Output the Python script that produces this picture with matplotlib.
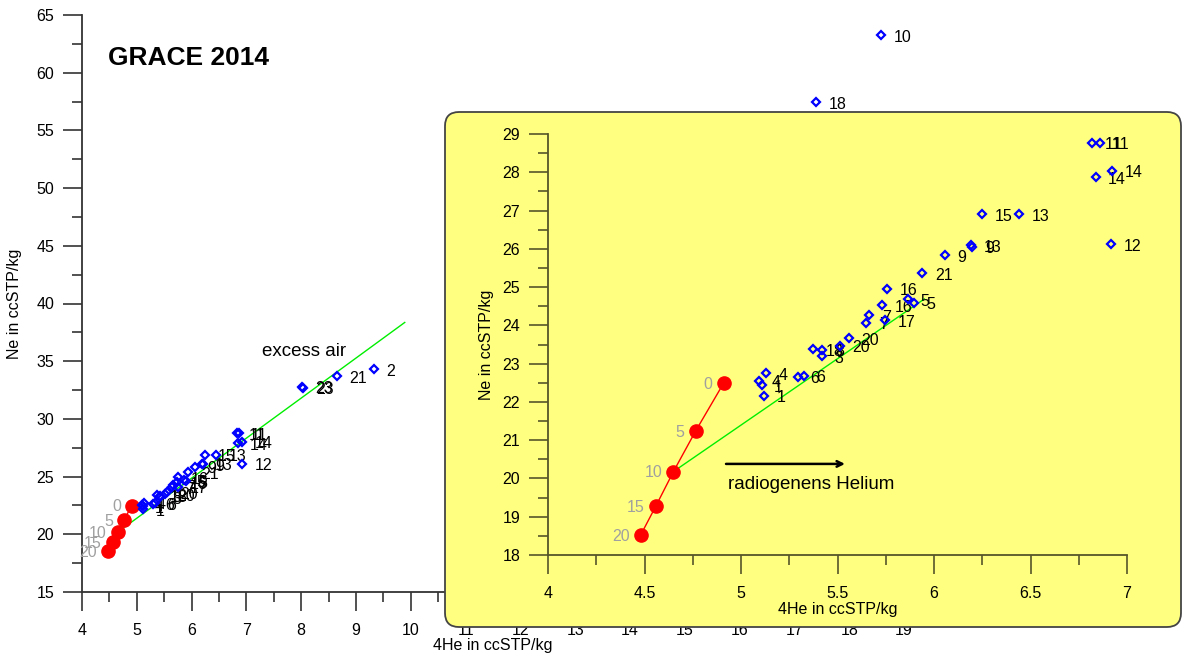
import matplotlib
matplotlib.use("Agg")
import matplotlib.pyplot as plt
from matplotlib.patches import FancyBboxPatch
from matplotlib.ticker import MultipleLocator, FormatStrFormatter

plt.rcParams["font.family"] = ["Liberation Sans", "DejaVu Sans"]

# sample measurements (4He, Ne) with sample labels
he4 = [5.129, 5.093, 5.107, 5.119, 5.293, 5.327, 5.374, 5.421, 5.421, 5.512,
       5.557, 5.650, 5.664, 5.745, 5.733, 5.757, 5.863, 5.895, 5.940, 6.058,
       6.192, 6.199, 6.249, 6.443, 6.916, 6.821, 6.859, 6.921, 6.838,
       8.02, 8.04, 8.65, 9.32, 18.58, 17.40]
ne = [22.75, 22.55, 22.44, 22.16, 22.66, 22.68, 23.38, 23.36, 23.20, 23.47,
      23.67, 24.07, 24.27, 24.14, 24.52, 24.96, 24.69, 24.59, 25.36, 25.84,
      26.10, 26.06, 26.91, 26.91, 26.12, 28.77, 28.77, 28.04, 27.87,
      32.80, 32.70, 33.72, 34.32, 63.27, 57.46]
labels = ["4", "4", "1", "1", "6", "6", "18", "8", "3", "20",
          "20", "7", "7", "17", "16", "16", "5", "5", "21", "9",
          "13", "9", "15", "13", "12", "11", "11", "14", "14",
          "23", "23", "21", "2", "10", "18"]

# air-equilibrated water line (temperature in degC)
eq_he = [4.91, 4.765, 4.65, 4.56, 4.48]
eq_ne = [22.49, 21.24, 20.18, 19.29, 18.52]
eq_temp = ["0", "5", "10", "15", "20"]

# excess air line
ea_he_main = [4.65, 9.89]
ea_ne_main = [20.18, 38.36]
ea_he_inset = [4.65, 5.95]
ea_ne_inset = [20.18, 24.69]

BLUE = "#0000ff"
RED = "#ff0000"
GREEN = "#00ee00"
GRAY = "#a0a0a0"
YELLOW = "#ffff80"
FS = 11.5


def draw_data(ax, ea_x, ea_y):
    ax.plot(ea_x, ea_y, color=GREEN, lw=1.0, zorder=2)
    ax.plot(eq_he, eq_ne, color=RED, lw=1.0, zorder=2)
    ax.plot(eq_he, eq_ne, "o", color=RED, ms=9.5, mec=RED, zorder=3)
    for x, y, t in zip(eq_he, eq_ne, eq_temp):
        ax.annotate(t, (x, y), xytext=(-8, -1), textcoords="offset points",
                    ha="right", va="center", fontsize=FS, color=GRAY,
                    annotation_clip=True)
    ax.plot(he4, ne, "D", ms=4.3, mfc="none", mec=BLUE, mew=1.6, zorder=4)
    for x, y, t in zip(he4, ne, labels):
        ax.annotate(t, (x, y), xytext=(9, -1.5), textcoords="offset points",
                    ha="left", va="center", fontsize=FS, color="black",
                    annotation_clip=True)


def style_axes(ax, color, xmaj, xmin, ymaj, ymin):
    for s in ("top", "right"):
        ax.spines[s].set_visible(False)
    for s in ("left", "bottom"):
        ax.spines[s].set_color(color)
        ax.spines[s].set_linewidth(1.3)
    ax.xaxis.set_major_locator(MultipleLocator(xmaj))
    ax.xaxis.set_minor_locator(MultipleLocator(xmin))
    ax.yaxis.set_major_locator(MultipleLocator(ymaj))
    ax.yaxis.set_minor_locator(MultipleLocator(ymin))
    ax.xaxis.set_major_formatter(FormatStrFormatter("%g"))
    ax.yaxis.set_major_formatter(FormatStrFormatter("%g"))
    ax.tick_params(which="major", length=14, width=1.2, color=color,
                   labelsize=FS, pad=6)
    ax.tick_params(axis="x", which="major", pad=8)
    ax.tick_params(which="minor", length=7, width=1.2, color=color)


W, H = 1183, 655
fig = plt.figure(figsize=(W / 100, H / 100), dpi=100)

# main axes
ax = fig.add_axes([82 / W, 1 - 592 / H, (904 - 82) / W, (592 - 15) / H])
ax.set_zorder(0)
draw_data(ax, ea_he_main, ea_ne_main)
ax.set_xlim(4, 19)
ax.set_ylim(15, 65)
style_axes(ax, "#333333", 1, 0.5, 5, 2.5)
ax.set_xlabel("4He in ccSTP/kg", fontsize=FS, labelpad=0)
ax.set_ylabel("Ne in ccSTP/kg", fontsize=FS, labelpad=10)
ax.text(4.47, 61.3, "GRACE 2014", fontsize=19, fontweight="bold",
        ha="left", va="center")
ax.text(8.05, 35.82, "excess air", fontsize=13.5, ha="center", va="center")

# yellow inset panel
box = FancyBboxPatch((4.45, 0.28), 7.36, 5.15,
                     boxstyle="round,pad=0,rounding_size=0.14",
                     transform=fig.dpi_scale_trans, facecolor=YELLOW,
                     edgecolor="#444444", linewidth=1.3, zorder=0.5)
fig.patches.append(box)

ins = fig.add_axes([548 / W, 1 - 555 / H, (1127 - 548) / W, (555 - 134) / H])
ins.set_zorder(1)
ins.patch.set_alpha(0)
draw_data(ins, ea_he_inset, ea_ne_inset)
ins.set_xlim(4, 7)
ins.set_ylim(18, 29)
style_axes(ins, "#55552a", 0.5, 0.25, 1, 0.5)
ins.set_xlabel("4He in ccSTP/kg", fontsize=FS, labelpad=1)
ins.set_ylabel("Ne in ccSTP/kg", fontsize=FS, labelpad=6)
ins.annotate("", xy=(5.553, 20.38), xytext=(4.908, 20.38),
             arrowprops=dict(arrowstyle="->", color="black", lw=1.8))
ins.text(4.932, 19.83, "radiogenens Helium", fontsize=13.5,
         ha="left", va="center")

fig.savefig("out.png", dpi=100)
